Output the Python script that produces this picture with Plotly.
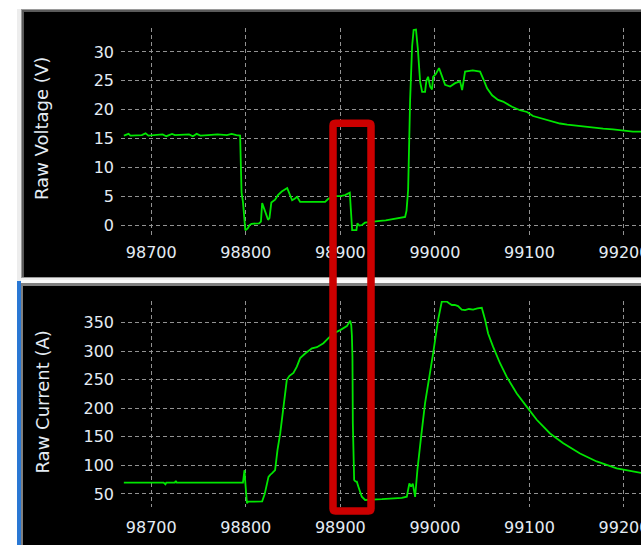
import plotly.graph_objects as go

# ---- acquisition window (sample index) ----
x_ticks = [98700, 98800, 98900, 99000, 99100, 99200]
x_range = [98668, 99218]

# ---- raw voltage channel ----
volt_t = [98671, 98676, 98678, 98690, 98694, 98697, 98712, 98716, 98722, 98725,
          98740, 98744, 98748, 98752, 98760, 98770, 98780, 98785, 98790, 98794,
          98795.5, 98797, 98799.5, 98802, 98804, 98806, 98814, 98816, 98817.3, 98819,
          98821, 98823.5, 98825, 98827, 98831, 98834, 98838, 98843.8, 98846, 98849,
          98852, 98854.3, 98857.5, 98870, 98883.9, 98887, 98889, 98891, 98893, 98900,
          98905, 98910, 98911.4, 98912.5, 98917, 98918, 98920, 98923, 98926, 98930,
          98935, 98942, 98948, 98955, 98962, 98968.5, 98970, 98971.7, 98973.8, 98975.9,
          98977.5, 98980, 98982, 98984.4, 98986.5, 98989.6, 98991, 98992.8, 98995, 98997,
          98998.1, 99001, 99004.4, 99007, 99010.8, 99016.1, 99021.4, 99026.6, 99028.8, 99030,
          99031.9, 99040, 99047.8, 99051, 99055.2, 99060.5, 99066.8, 99072.1, 99081.6, 99090.1,
          99097.5, 99103.8, 99110, 99118.6, 99125, 99132.3, 99140, 99150.3, 99158, 99167.2,
          99178, 99188.4, 99200, 99209.5, 99218]
volt_v = [15.5, 15.8, 15.5, 15.6, 15.9, 15.5, 15.7, 15.4, 15.8, 15.6,
          15.7, 15.4, 15.8, 15.5, 15.6, 15.7, 15.6, 15.8, 15.6, 15.5,
          5.6, 4.0, -0.9, -0.6, 0.0, 0.2, 0.3, 0.6, 3.8, 2.8,
          2.1, 0.9, 1.2, 3.9, 4.4, 5.2, 5.8, 6.4, 5.6, 4.3,
          4.6, 4.9, 4.0, 4.0, 4.0, 4.5, 4.7, 4.3, 5.0, 5.0,
          5.2, 5.6, 0.9, -0.9, -0.9, 0.3, -0.1, 0.0, 0.4, 0.5,
          0.6, 0.7, 0.8, 1.0, 1.1, 1.4, 2.5, 6.1, 21.7, 31.0,
          33.8, 33.9, 30.5, 24.8, 23.1, 23.1, 25.0, 25.7, 24.0, 23.5,
          25.7, 26.2, 27.2, 26.0, 24.3, 24.0, 24.6, 24.9, 23.4, 24.6,
          26.6, 26.8, 26.6, 25.4, 23.7, 22.5, 21.7, 21.4, 20.5, 19.9,
          19.6, 18.9, 18.6, 18.2, 17.9, 17.6, 17.4, 17.2, 17.0, 16.9,
          16.7, 16.6, 16.4, 16.2, 16.2]

# ---- raw current channel ----
curr_t = [98671, 98700, 98713, 98715, 98716, 98725, 98726, 98727, 98760, 98797,
          98797.6, 98798.6, 98799.5, 98801.2, 98802.5, 98810, 98817.3, 98820, 98821.6, 98824,
          98826, 98827.6, 98831, 98833.5, 98836.4, 98839.9, 98843.4, 98846.2, 98848, 98850.4,
          98854, 98857.5, 98862.8, 98869.9, 98875.2, 98882.1, 98887.4, 98892.7, 98899.8, 98906.9,
          98910.4, 98911.5, 98912.2, 98912.8, 98913.2, 98914.6, 98916, 98917.4, 98919.1, 98922.7,
          98926.2, 98935, 98938.6, 98944, 98949.2, 98954, 98959.7, 98965, 98970.3, 98973,
          98974.8, 98976.6, 98979.1, 98981.5, 98985.4, 98989.6, 98998.1, 99003.4, 99007.3, 99012.6,
          99015, 99017.9, 99021, 99024.5, 99028.4, 99031.9, 99036, 99040.4, 99045, 99049.6,
          99053.1, 99056.3, 99061.5, 99068.9, 99076, 99086.6, 99097.1, 99107.7, 99121.8, 99135.8,
          99153.5, 99171.1, 99192.3, 99209.5, 99218]
curr_a = [70, 70, 70, 67, 70, 70, 73, 70, 70, 70,
          78, 92, 70, 33.7, 36.5, 36.5, 37, 50, 63, 80,
          84, 86, 92, 127, 156, 209, 250, 257, 259, 262,
          273, 288, 296, 305, 307, 314, 323, 331, 337, 344,
          353.5, 346, 328, 290, 174, 74.5, 72, 71.6, 62.8, 45.3,
          39.5, 39.5, 40.7, 41, 41.5, 41, 42.4, 43, 45.3, 68.7,
          62.8, 68, 45, 92, 150, 209, 296, 355, 387, 387,
          384, 381, 381, 379, 373, 372, 374, 373, 375, 376,
          355, 331, 308, 279, 255, 226, 203, 180, 156, 139,
          121, 107, 95, 89, 87]

volt_ticks = [0, 5, 10, 15, 20, 25, 30]
curr_ticks = [50, 100, 150, 200, 250, 300, 350]

W, H = 641, 545


def px(x):
    return x / W


def py(y):
    return 1 - y / H


TRACE = "#00e600"
GRID = "#929292"
TXT = "#e4ecf4"
FONT = "DejaVu Sans"

fig = go.Figure()
fig.add_trace(go.Scatter(x=volt_t, y=volt_v, mode="lines",
                         line=dict(color=TRACE, width=1.8), xaxis="x", yaxis="y",
                         showlegend=False))
fig.add_trace(go.Scatter(x=curr_t, y=curr_a, mode="lines",
                         line=dict(color=TRACE, width=1.8), xaxis="x2", yaxis="y2",
                         showlegend=False))

axis_common = dict(showgrid=True, gridcolor=GRID, gridwidth=1, griddash="4px,3px",
                   zeroline=False, showline=False, ticks="", automargin=False,
                   tickfont=dict(family=FONT, size=16, color=TXT))

fig.update_layout(
    width=W, height=H, autosize=False,
    margin=dict(l=0, r=0, t=0, b=0),
    paper_bgcolor="white", plot_bgcolor="black",
    xaxis=dict(domain=[px(121), 1], anchor="y", range=x_range,
               tickvals=x_ticks, ticktext=[str(v) for v in x_ticks],
               ticklabelstandoff=6, ticklabeloverflow="allow", **axis_common),
    yaxis=dict(domain=[py(235), py(28)], anchor="x", range=[-1.73, 34.16],
               tickvals=volt_ticks, ticklabelstandoff=6, **axis_common),
    xaxis2=dict(domain=[px(121), 1], anchor="y2", range=x_range,
                tickvals=x_ticks, ticktext=[str(v) for v in x_ticks],
                ticklabelstandoff=9, ticklabeloverflow="allow", **axis_common),
    yaxis2=dict(domain=[py(507), py(301)], anchor="x2", range=[27.2, 388],
                tickvals=curr_ticks, ticklabelstandoff=6, **axis_common),
)


def prect(x0, y0, x1, y1, color, layer="below"):
    fig.add_shape(type="rect", xref="paper", yref="paper",
                  x0=px(x0), x1=px(x1), y0=py(y1), y1=py(y0),
                  fillcolor=color, line=dict(width=0), layer=layer)


# window chrome around the two plot panels
prect(17, 9, W, H, "#ededed")
prect(21, 9, W, 278, "#9a9a9a")
prect(22, 10, W, 277, "#5a5a5a")
prect(24, 12, W, 277, "black")
prect(21, 280, W, 283, "#fafafa")
prect(21, 283, W, H, "#808080")
prect(23, 286, W, H, "black")
prect(17, 281, 21, H, "#2a78d4")

# axis titles
for label, yc in (("Raw Voltage (V)", 129), ("Raw Current (A)", 402.5)):
    fig.add_annotation(x=px(42), y=py(yc), xref="paper", yref="paper",
                       xanchor="center", yanchor="middle",
                       text=label, textangle=-90, showarrow=False,
                       font=dict(family=FONT, size=18, color=TXT))

# highlight box spanning both panels (rounded corners)
x0, x1, y0, y1 = 333, 371, 123.3, 511
r = 2.5
path = (f"M {px(x0 + r)},{py(y0)} L {px(x1 - r)},{py(y0)} "
        f"Q {px(x1)},{py(y0)} {px(x1)},{py(y0 + r)} "
        f"L {px(x1)},{py(y1 - r)} Q {px(x1)},{py(y1)} {px(x1 - r)},{py(y1)} "
        f"L {px(x0 + r)},{py(y1)} Q {px(x0)},{py(y1)} {px(x0)},{py(y1 - r)} "
        f"L {px(x0)},{py(y0 + r)} Q {px(x0)},{py(y0)} {px(x0 + r)},{py(y0)} Z")
fig.add_shape(type="path", path=path, xref="paper", yref="paper",
              line=dict(color="#cc0000", width=7.5), layer="above")

fig.write_html("out.html")
